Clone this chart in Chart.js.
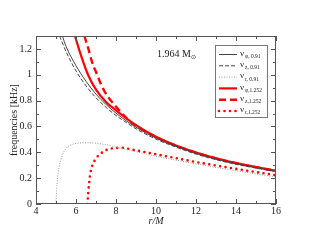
<!DOCTYPE html>
<html lang="en">
<head>
  <meta charset="UTF-8">
  <title>Epicyclic frequencies</title>
  <script src="https://cdn.jsdelivr.net/npm/chart.js"></script>
  <style>
    body {
      margin: 0;
      background-color: #fff;
    }
    #freqChart {
      display: block;
    }
  </style>
</head>
<body>
  <canvas id="freqChart" width="311" height="241"></canvas>

  <script>
    // orbital (phi), vertical (z) and radial (r) frequencies, j = 0.91 and j = 1.252
    const rPhi091 = [5.32, 5.5, 6, 6.5, 7, 7.5, 8, 8.5, 9, 10, 11, 12, 13, 14, 15, 16];
    const fPhi091 = [1.30, 1.22, 1.07, 0.95, 0.85, 0.77, 0.703, 0.645, 0.594, 0.51, 0.446, 0.391, 0.347, 0.311, 0.28, 0.253];

    const rZ091 = [5.18, 5.5, 6, 6.5, 7, 7.5, 8, 8.5, 9, 10, 11, 12, 13, 14, 15, 16];
    const fZ091 = [1.30, 1.18, 1.03, 0.915, 0.822, 0.748, 0.685, 0.632, 0.582, 0.502, 0.44, 0.386, 0.343, 0.307, 0.278, 0.251];

    const rR091 = [5.0, 5.03, 5.08, 5.15, 5.3, 5.5, 5.8, 6.2, 6.6, 7, 7.5, 8, 9, 10, 11, 12, 13, 14, 15, 16];
    const fR091 = [0, 0.1, 0.2, 0.28, 0.37, 0.43, 0.46, 0.472, 0.474, 0.47, 0.458, 0.44, 0.405, 0.37, 0.34, 0.31, 0.283, 0.258, 0.233, 0.21];

    const rPhi1252 = [5.95, 6.25, 6.6, 7, 7.5, 8, 8.5, 9, 10, 11, 12, 13, 14, 15, 16];
    const fPhi1252 = [1.30, 1.15, 1.0, 0.885, 0.79, 0.725, 0.665, 0.61, 0.52, 0.452, 0.398, 0.354, 0.317, 0.286, 0.258];

    const rZ1252 = [6.42, 6.62, 6.8, 7.03, 7.3, 7.55, 7.8, 8.45, 9, 10, 11, 12, 13, 14, 15, 16];
    const fZ1252 = [1.30, 1.2, 1.1, 1.01, 0.91, 0.84, 0.79, 0.676, 0.605, 0.518, 0.452, 0.397, 0.353, 0.316, 0.285, 0.256];

    const rR1252 = [6.57, 6.6, 6.64, 6.7, 6.8, 6.95, 7.12, 7.37, 7.6, 7.87, 8.2, 9, 10, 11, 12, 13, 14, 15, 16];
    const fR1252 = [0, 0.06, 0.14, 0.22, 0.29, 0.34, 0.375, 0.405, 0.423, 0.431, 0.435, 0.415, 0.385, 0.355, 0.325, 0.298, 0.272, 0.247, 0.223];

    const xTickLabels = [4, 6, 8, 10, 12, 14, 16];
    const yTickLabels = [0, 0.2, 0.4, 0.6, 0.8, 1, 1.2];

    const legendNames = ['φ, 0.91', 'z, 0.91', 'r, 0.91', 'φ,1.252', 'z,1.252', 'r,1.252'];

    const serif = '"Times New Roman", "Liberation Serif", serif';

    function pts(rs, fs) {
      return rs.map((r, i) => ({ x: r, y: fs[i] }));
    }

    const styles = [
      { color: '#444', width: 1, dash: [], cap: 'butt' },
      { color: '#444', width: 1, dash: [4, 2], cap: 'butt' },
      { color: '#999', width: 1, dash: [1, 1.5], cap: 'butt' },
      { color: '#ff0000', width: 2.2, dash: [], cap: 'butt' },
      { color: '#ff0000', width: 2.4, dash: [7, 4], cap: 'butt' },
      { color: '#ff0000', width: 2.6, dash: [0, 5.5], cap: 'round' }
    ];

    const series = [
      pts(rPhi091, fPhi091), pts(rZ091, fZ091), pts(rR091, fR091),
      pts(rPhi1252, fPhi1252), pts(rZ1252, fZ1252), pts(rR1252, fR1252)
    ];

    const datasets = series.map((d, i) => ({
      label: legendNames[i],
      data: d,
      showLine: true,
      borderColor: styles[i].color,
      borderWidth: styles[i].width,
      borderDash: styles[i].dash,
      borderCapStyle: styles[i].cap,
      cubicInterpolationMode: 'monotone',
      pointRadius: 0,
      fill: false
    }));

    const frameColor = '#555';

    const decorPlugin = {
      id: 'decor',
      afterDraw(chart) {
        const ctx = chart.ctx;
        const a = chart.chartArea;
        const xs = chart.scales.x;
        const ys = chart.scales.y;
        ctx.save();

        // frame
        ctx.strokeStyle = frameColor;
        ctx.lineWidth = 1;
        ctx.strokeRect(a.left + 0.5, a.top + 0.5, a.right - a.left - 1, a.bottom - a.top - 1);

        // inward ticks on all four sides
        ctx.beginPath();
        for (let v = 4; v <= 16; v++) {
          const px = Math.round(xs.getPixelForValue(v)) + 0.5;
          const len = v % 2 === 0 ? 5 : 3;
          ctx.moveTo(px, a.bottom); ctx.lineTo(px, a.bottom - len);
          ctx.moveTo(px, a.top); ctx.lineTo(px, a.top + len);
        }
        for (let k = 0; k <= 13; k++) {
          const py = Math.round(ys.getPixelForValue(k / 10)) + 0.5;
          const len = k % 2 === 0 ? 5 : 3;
          ctx.moveTo(a.left, py); ctx.lineTo(a.left + len, py);
          ctx.moveTo(a.right, py); ctx.lineTo(a.right - len, py);
        }
        ctx.stroke();

        // axis titles
        ctx.fillStyle = '#222';
        ctx.font = '10px ' + serif;
        ctx.textAlign = 'center';
        ctx.textBaseline = 'middle';
        ctx.save();
        ctx.translate(14, (a.top + a.bottom) / 2);
        ctx.rotate(-Math.PI / 2);
        ctx.fillText('frequencies [kHz]', 0, 0);
        ctx.restore();
        ctx.font = 'italic 10px ' + serif;
        ctx.fillText('r/M', (a.left + a.right) / 2, 221);

        // mass annotation
        ctx.textAlign = 'left';
        ctx.font = '10px ' + serif;
        ctx.fillText('1.964 M', 157, 54);
        const mw = ctx.measureText('1.964 M').width;
        ctx.font = '6px ' + serif;
        ctx.fillText('⊙', 157 + mw, 57);

        // legend
        const lx = 215, ly = 45, lw = 52, lh = 72;
        ctx.fillStyle = '#fff';
        ctx.fillRect(lx, ly, lw, lh);
        ctx.strokeStyle = '#777';
        ctx.strokeRect(lx + 0.5, ly + 0.5, lw, lh);
        legendNames.forEach((name, i) => {
          const y = 54.5 + i * 11.3;
          const s = styles[i];
          ctx.beginPath();
          ctx.strokeStyle = s.color;
          ctx.lineWidth = s.width;
          ctx.setLineDash(s.dash);
          ctx.lineCap = s.cap;
          ctx.moveTo(219, y);
          ctx.lineTo(237, y);
          ctx.stroke();
          ctx.setLineDash([]);
          ctx.lineCap = 'butt';
          ctx.fillStyle = '#222';
          ctx.font = '9px ' + serif;
          ctx.fillText('ν', 240, y - 1);
          ctx.font = '5.5px ' + serif;
          ctx.fillText(name, 245, y + 2);
        });

        ctx.restore();
      }
    };

    const config = {
      type: 'scatter',
      data: { datasets: datasets },
      options: {
        responsive: false,
        animation: false,
        devicePixelRatio: 1,
        layout: {
          padding: { left: 0, top: 36, right: 35, bottom: 0 }
        },
        plugins: {
          legend: { display: false },
          tooltip: { enabled: false }
        },
        scales: {
          x: {
            type: 'linear',
            min: 4,
            max: 16,
            grid: { display: false, drawTicks: false },
            border: { display: false },
            afterFit: (scale) => { scale.height = 37; },
            afterBuildTicks: (scale) => {
              scale.ticks = xTickLabels.map(v => ({ value: v }));
            },
            ticks: {
              padding: 1,
              maxRotation: 0,
              color: '#222',
              font: { family: serif, size: 10 },
              callback: (v) => String(v)
            }
          },
          y: {
            type: 'linear',
            min: 0,
            max: 1.3,
            grid: { display: false, drawTicks: false },
            border: { display: false },
            afterFit: (scale) => { scale.width = 36; },
            afterBuildTicks: (scale) => {
              scale.ticks = yTickLabels.map(v => ({ value: v }));
            },
            ticks: {
              padding: 4,
              color: '#222',
              font: { family: serif, size: 10 },
              callback: (v) => String(Number(v.toFixed(1)))
            }
          }
        }
      },
      plugins: [decorPlugin]
    };

    const freqChart = new Chart(document.getElementById('freqChart'), config);
  </script>
</body>
</html>
